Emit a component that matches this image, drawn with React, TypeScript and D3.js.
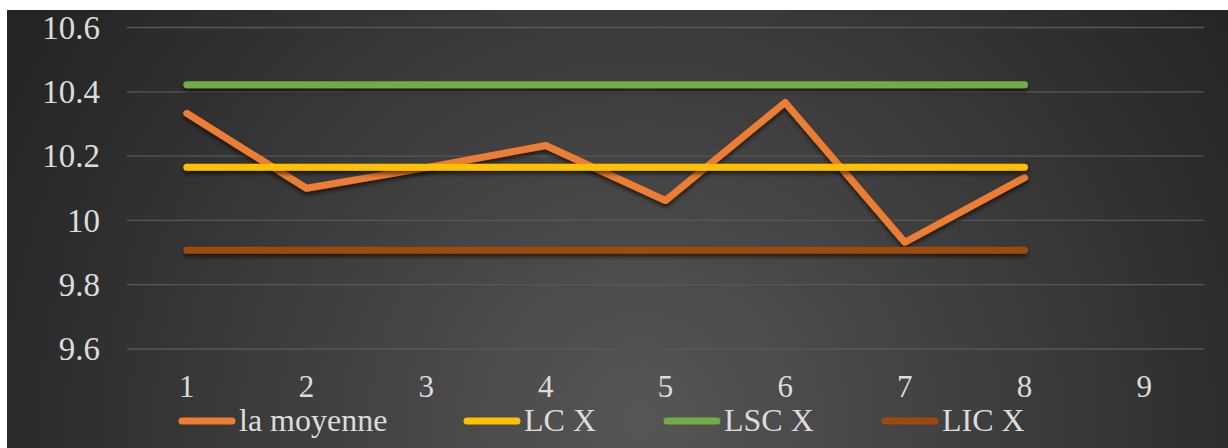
import React from "react";
import * as d3 from "d3";

const categories = ["1", "2", "3", "4", "5", "6", "7", "8", "9"];
const moyenne = [10.333, 10.1, 10.164, 10.233, 10.062, 10.367, 9.932, 10.133];
const lcX = [10.165, 10.165, 10.165, 10.165, 10.165, 10.165, 10.165, 10.165];
const lscX = [10.422, 10.422, 10.422, 10.422, 10.422, 10.422, 10.422, 10.422];
const licX = [9.907, 9.907, 9.907, 9.907, 9.907, 9.907, 9.907, 9.907];
const yTicks = [9.6, 9.8, 10, 10.2, 10.4, 10.6];
const seriesNames = ["la moyenne", "LC X", "LSC X", "LIC X"];
const seriesColors = ["#ED7D31", "#FFC000", "#70AD47", "#9E480E"];

const W = 1228;
const H = 448;

export default function App() {
  const x = d3.scaleBand<string>().domain(categories).range([127, 1204]);
  const y = d3.scaleLinear().domain([9.6, 10.6]).range([349, 27.5]);
  const line = d3
    .line<number>()
    .x((_, i) => (x(categories[i]) as number) + x.bandwidth() / 2)
    .y((d) => y(d));
  const series = [moyenne, lcX, lscX, licX];
  const legendPos = [
    { x1: 179, x2: 235 },
    { x1: 464, x2: 520 },
    { x1: 664, x2: 720 },
    { x1: 882, x2: 938 },
  ];
  const font = "'Liberation Serif', 'Times New Roman', serif";
  return (
    <svg
      width={W}
      height={H}
      style={{ position: "absolute", left: 0, top: 0, background: "#fff" }}
    >
      <defs>
        <radialGradient
          id="bg"
          gradientUnits="userSpaceOnUse"
          cx={640}
          cy={420}
          r={720}
        >
          <stop offset="0" stopColor="#565656" />
          <stop offset="1" stopColor="#242424" />
        </radialGradient>
        <filter id="sh" filterUnits="userSpaceOnUse" x={0} y={0} width={W} height={H}>
          <feDropShadow dx={0} dy={3} stdDeviation={2} floodColor="#000" floodOpacity={0.6} />
        </filter>
      </defs>
      <rect x={7} y={10} width={W - 7} height={H - 10} fill="url(#bg)" />
      {yTicks.map((t) => (
        <g key={t}>
          <line x1={127} x2={1204} y1={y(t)} y2={y(t)} stroke="#575757" strokeWidth={1.3} />
          <text
            x={100}
            y={y(t)}
            dy="0.34em"
            textAnchor="end"
            fill="#dcdcdc"
            fontFamily={font}
            fontSize={33}
          >
            {d3.format("~g")(t)}
          </text>
        </g>
      ))}
      {categories.map((c) => (
        <text
          key={c}
          x={(x(c) as number) + x.bandwidth() / 2}
          y={397}
          textAnchor="middle"
          fill="#dcdcdc"
          fontFamily={font}
          fontSize={31}
        >
          {c}
        </text>
      ))}
      {series.map((s, k) => (
        <path
          key={k}
          d={line(s) as string}
          fill="none"
          stroke={seriesColors[k]}
          strokeWidth={7}
          strokeLinecap="round"
          strokeLinejoin="round"
          filter="url(#sh)"
        />
      ))}
      {seriesNames.map((n, i) => (
        <g key={n}>
          <line
            x1={legendPos[i].x1 + 3}
            x2={legendPos[i].x2 - 3}
            y1={421}
            y2={421}
            stroke={seriesColors[i]}
            strokeWidth={7}
            strokeLinecap="round"
          />
          <text
            x={legendPos[i].x2 + 4}
            y={431}
            fill="#dcdcdc"
            fontFamily={font}
            fontSize={32}
          >
            {n}
          </text>
        </g>
      ))}
    </svg>
  );
}
